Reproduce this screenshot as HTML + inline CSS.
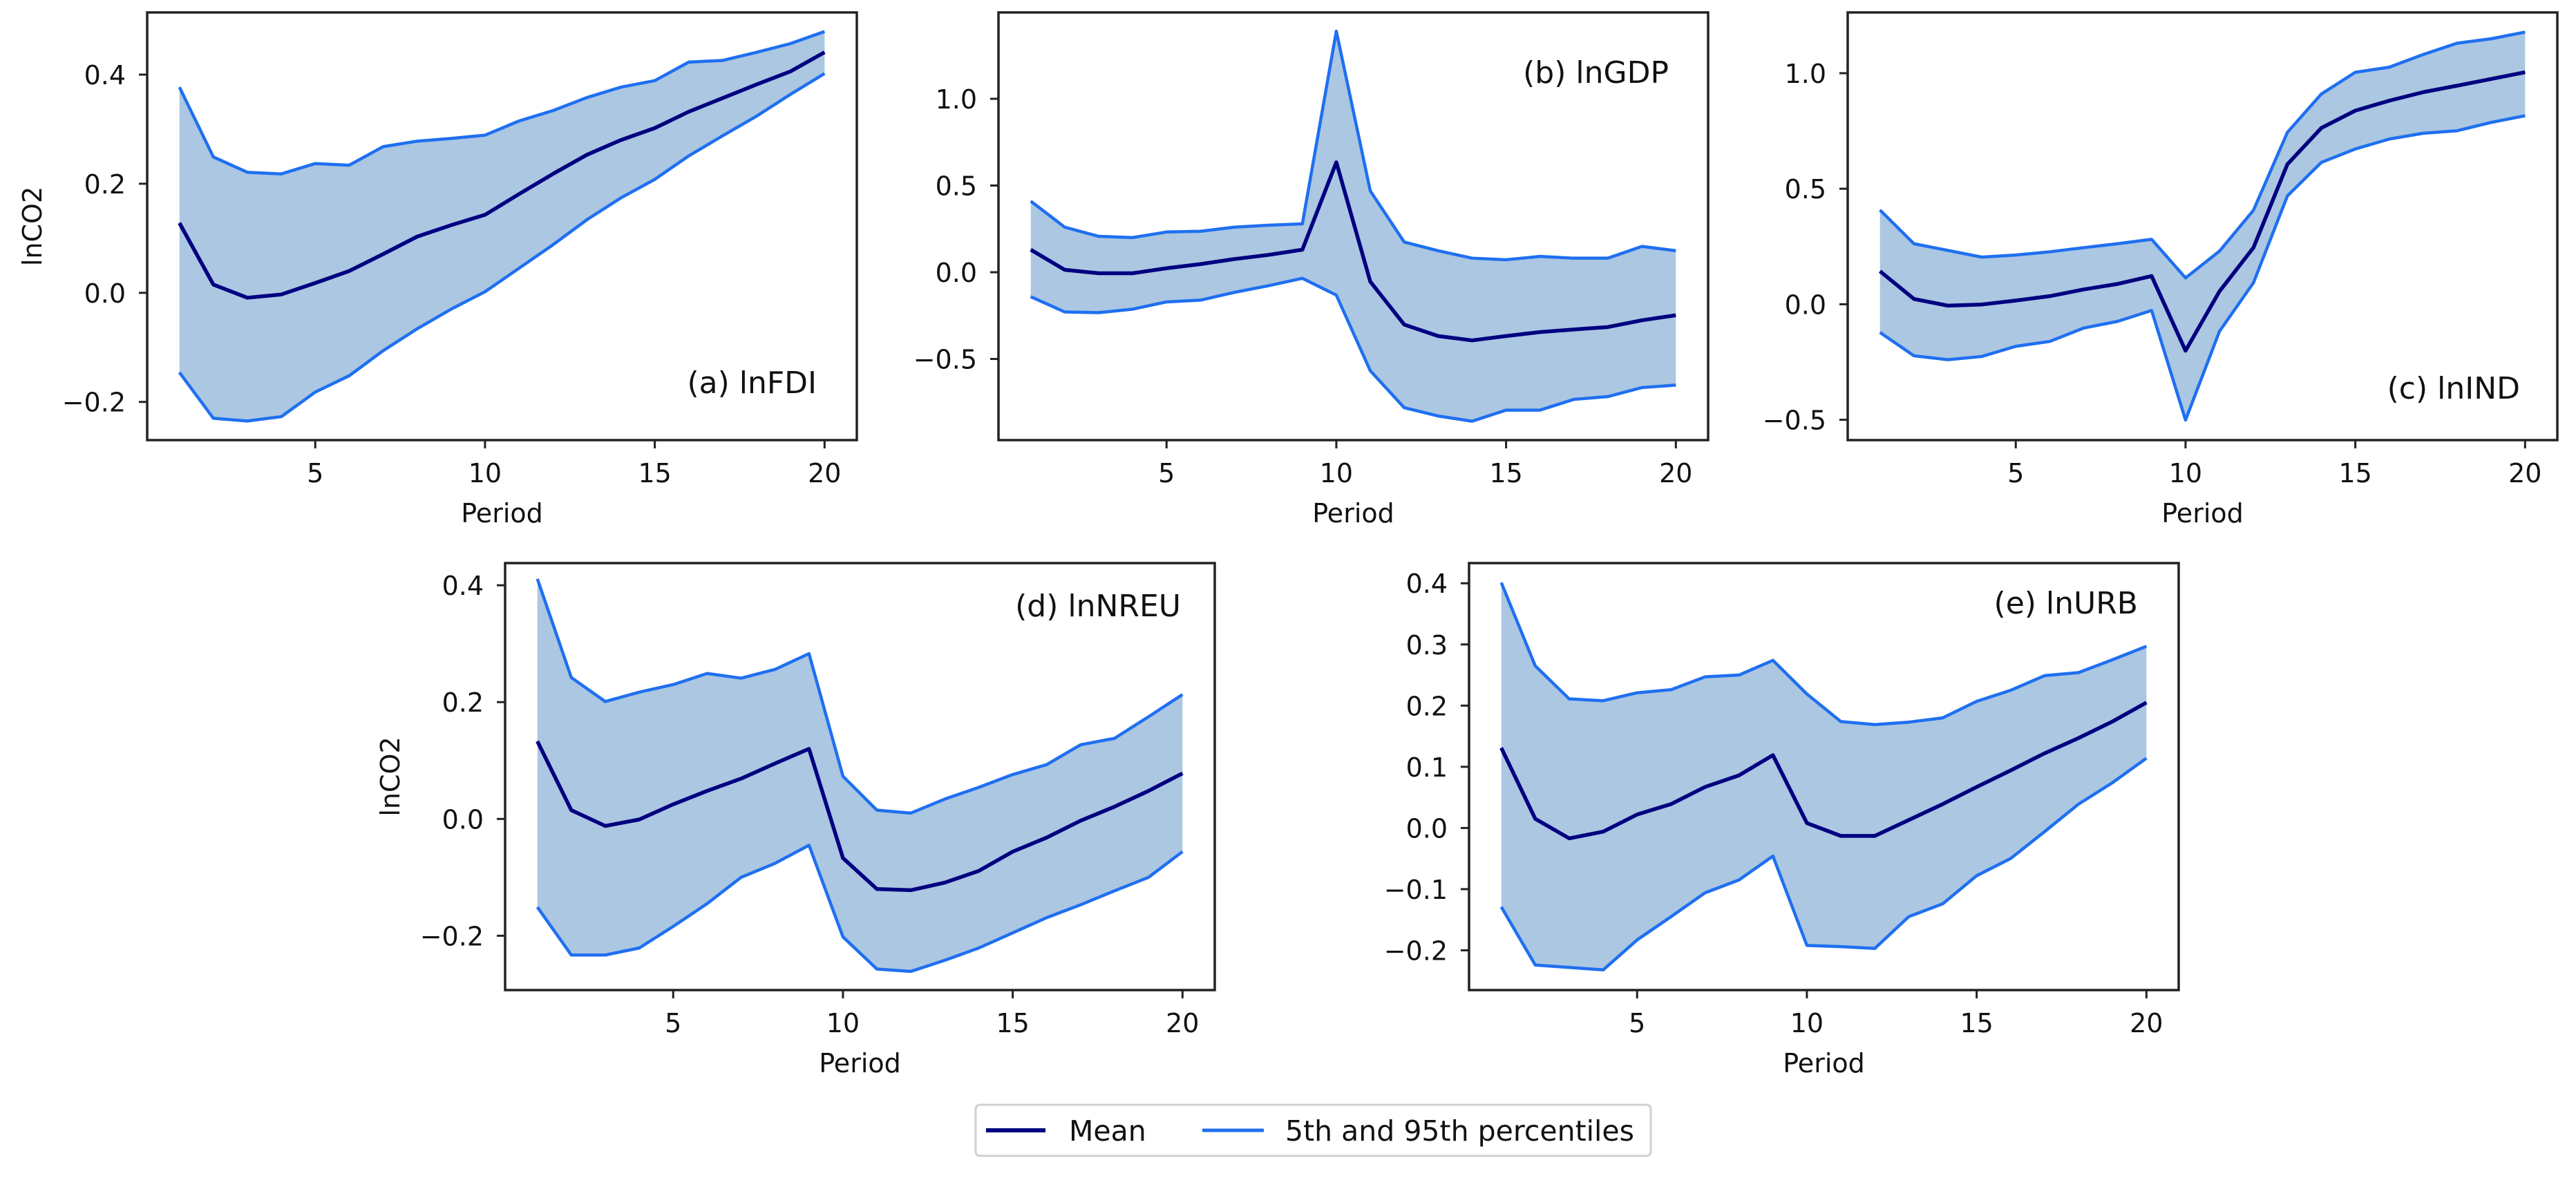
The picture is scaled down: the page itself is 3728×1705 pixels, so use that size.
<!DOCTYPE html>
<html><head><meta charset="utf-8"><style>
html,body{margin:0;padding:0;background:#fff;}
svg{display:block;font-family:"DejaVu Sans","Liberation Sans",sans-serif;}
</style></head><body>
<svg id="fig" width="3728" height="1705" viewBox="0 0 3728 1705" xmlns="http://www.w3.org/2000/svg">
<rect width="3728" height="1705" fill="#fff"/>
<g id="legend">
<rect x="1412" y="1599" width="977" height="74" rx="6" fill="#fff" stroke="#d0d0d0" stroke-width="3"/>
<line x1="1427" y1="1636" x2="1513" y2="1636" stroke="#000080" stroke-width="6"/>
<text x="1547" y="1651" font-size="41" fill="#111">Mean</text>
<line x1="1740" y1="1636" x2="1829" y2="1636" stroke="#1f6ff0" stroke-width="5"/>
<text x="1860" y="1651" font-size="41" fill="#111">5th and 95th percentiles</text>
</g>
</svg>
<script>
const periods=[1,2,3,4,5,6,7,8,9,10,11,12,13,14,15,16,17,18,19,20];
const xTicks=[5,10,15,20];
const aUpper=[0.377,0.249,0.221,0.218,0.237,0.234,0.268,0.278,0.283,0.289,0.315,0.334,0.358,0.377,0.389,0.423,0.426,0.441,0.457,0.479];
const aMean=[0.128,0.015,-0.009,-0.003,0.018,0.04,0.071,0.103,0.124,0.143,0.181,0.218,0.253,0.28,0.302,0.332,0.357,0.382,0.406,0.441];
const aLower=[-0.146,-0.23,-0.235,-0.227,-0.182,-0.152,-0.106,-0.066,-0.03,0.002,0.045,0.088,0.134,0.174,0.208,0.251,0.288,0.324,0.364,0.402];
const aTicks=[-0.2,0.0,0.2,0.4];
const bUpper=[0.41,0.26,0.207,0.2,0.232,0.236,0.26,0.271,0.279,1.39,0.469,0.174,0.124,0.081,0.072,0.091,0.081,0.081,0.149,0.124];
const bMean=[0.13,0.014,-0.006,-0.006,0.023,0.047,0.076,0.1,0.13,0.634,-0.054,-0.302,-0.368,-0.393,-0.368,-0.345,-0.33,-0.316,-0.277,-0.248];
const bLower=[-0.141,-0.229,-0.233,-0.213,-0.171,-0.161,-0.116,-0.078,-0.035,-0.132,-0.568,-0.781,-0.829,-0.859,-0.795,-0.795,-0.733,-0.717,-0.665,-0.651];
const bTicks=[-0.5,0.0,0.5,1.0];
const cUpper=[0.408,0.262,0.233,0.204,0.213,0.227,0.245,0.262,0.281,0.114,0.23,0.407,0.744,0.91,1.004,1.026,1.081,1.13,1.149,1.178];
const cMean=[0.143,0.023,-0.006,-0.001,0.016,0.035,0.064,0.088,0.122,-0.201,0.056,0.245,0.606,0.763,0.838,0.881,0.918,0.946,0.975,1.004];
const cLower=[-0.122,-0.223,-0.24,-0.226,-0.182,-0.161,-0.103,-0.074,-0.027,-0.501,-0.117,0.093,0.469,0.614,0.672,0.715,0.74,0.751,0.787,0.816];
const cTicks=[-0.5,0.0,0.5,1.0];
const dUpper=[0.411,0.242,0.201,0.217,0.23,0.249,0.241,0.256,0.283,0.073,0.015,0.01,0.034,0.054,0.076,0.093,0.127,0.138,0.175,0.213];
const dMean=[0.133,0.015,-0.012,-0.001,0.025,0.048,0.069,0.095,0.12,-0.067,-0.12,-0.122,-0.109,-0.089,-0.056,-0.032,-0.003,0.021,0.048,0.078];
const dLower=[-0.151,-0.233,-0.233,-0.221,-0.184,-0.145,-0.1,-0.076,-0.045,-0.202,-0.257,-0.261,-0.242,-0.221,-0.195,-0.169,-0.147,-0.123,-0.1,-0.056];
const dTicks=[-0.2,0.0,0.2,0.4];
const eUpper=[0.401,0.265,0.211,0.208,0.221,0.226,0.247,0.25,0.274,0.219,0.174,0.169,0.173,0.18,0.207,0.225,0.249,0.254,0.275,0.297];
const eMean=[0.131,0.015,-0.017,-0.006,0.022,0.039,0.067,0.086,0.119,0.008,-0.013,-0.013,0.013,0.039,0.067,0.094,0.122,0.147,0.174,0.205];
const eLower=[-0.129,-0.224,-0.228,-0.232,-0.183,-0.145,-0.106,-0.085,-0.046,-0.192,-0.194,-0.197,-0.145,-0.124,-0.078,-0.05,-0.006,0.039,0.074,0.114];
const eTicks=[-0.2,-0.1,0.0,0.1,0.2,0.3,0.4];

const NS="http://www.w3.org/2000/svg";
const fig=document.getElementById('fig');
function mk(tag,attrs,parent){const e=document.createElementNS(NS,tag);for(const k in attrs)e.setAttribute(k,attrs[k]);(parent||fig).appendChild(e);return e;}
function fmt(v,dec){let s=v.toFixed(dec);if(v<0)s='\u2212'+(-v).toFixed(dec);return s;}

function panel(cfg){
  const g=mk('g',{});
  
  
  const L=cfg.left,T=cfg.top,W=1027,H=cfg.h;
  const xmin=0.05,xmax=20.95;
  const xs=p=>L+(p-xmin)/(xmax-xmin)*W;
  const ys=v=>T+(cfg.ymax-v)/(cfg.ymax-cfg.ymin)*H;
  let d='';
  periods.forEach((p,i)=>{d+=(i?'L':'M')+xs(p)+','+ys(cfg.upper[i]);});
  for(let i=periods.length-1;i>=0;i--)d+='L'+xs(periods[i])+','+ys(cfg.lower[i]);
  const band=mk('path',{d:d+'Z',fill:'#abc7e2',stroke:'none'},g);
  
  
  function line(arr,color,w,name){
    const pts=periods.map((p,i)=>xs(p)+','+ys(arr[i])).join(' ');
    const pl=mk('polyline',{points:pts,fill:'none',stroke:color,'stroke-width':w,'stroke-linejoin':'round'},g);
    
    
  }
  line(cfg.upper,'#1f6ff0',4.5,cfg.id+'-95th-line');
  line(cfg.lower,'#1f6ff0',4.5,cfg.id+'-5th-line');
  line(cfg.mean,'#000080',5.5,cfg.id+'-mean-line');
  const frame=mk('rect',{x:L,y:T,width:W,height:H,fill:'none',stroke:'#222','stroke-width':3.5},g);
  
  
  xTicks.forEach(t=>{
    const x=xs(t);
    mk('line',{x1:x,y1:T+H,x2:x,y2:T+H+12,stroke:'#222','stroke-width':3},g);
    const tx=mk('text',{x:x,y:T+H+61,'font-size':38,'text-anchor':'middle',fill:'#111'},g);
    tx.textContent=t;
    
    
  });
  cfg.ticks.forEach(t=>{
    const y=ys(t);
    mk('line',{x1:L-12,y1:y,x2:L,y2:y,stroke:'#222','stroke-width':3},g);
    const tx=mk('text',{x:L-31,y:y+14,'font-size':38,'text-anchor':'end',fill:'#111'},g);
    tx.textContent=fmt(t,1);
    
    
  });
  const xl=mk('text',{x:L+W/2,y:T+H+119,'font-size':38,'text-anchor':'middle',fill:'#111'},g);
  xl.textContent='Period';
  
  
  if(cfg.ylab){
    const cy=T+H/2;
    const yl=mk('text',{x:cfg.ylab,y:cy+14,'font-size':38,'text-anchor':'middle',fill:'#111',transform:'rotate(-90 '+cfg.ylab+' '+cy+')'},g);
    yl.textContent='lnCO2';
    
    
  }
  const an=mk('text',{x:cfg.ax,y:cfg.ay+16,'font-size':44,'text-anchor':'end',fill:'#111'},g);
  an.textContent=cfg.label;
  
  
}
panel({id:'a',left:213,top:18,h:619,ymin:-0.27,ymax:0.514,upper:aUpper,mean:aMean,lower:aLower,ticks:aTicks,ylab:46,label:'(a) lnFDI',ax:1182,ay:553});
panel({id:'b',left:1445,top:18,h:619,ymin:-0.968,ymax:1.498,upper:bUpper,mean:bMean,lower:bLower,ticks:bTicks,label:'(b) lnGDP',ax:2415,ay:104});
panel({id:'c',left:2674,top:18,h:619,ymin:-0.588,ymax:1.263,upper:cUpper,mean:cMean,lower:cLower,ticks:cTicks,label:'(c) lnIND',ax:3647,ay:561});
panel({id:'d',left:731,top:815,h:618,ymin:-0.293,ymax:0.438,upper:dUpper,mean:dMean,lower:dLower,ticks:dTicks,ylab:564,label:'(d) lnNREU',ax:1709,ay:876});
panel({id:'e',left:2126,top:815,h:618,ymin:-0.265,ymax:0.433,upper:eUpper,mean:eMean,lower:eLower,ticks:eTicks,label:'(e) lnURB',ax:3094,ay:872});
</script>
</body></html>
